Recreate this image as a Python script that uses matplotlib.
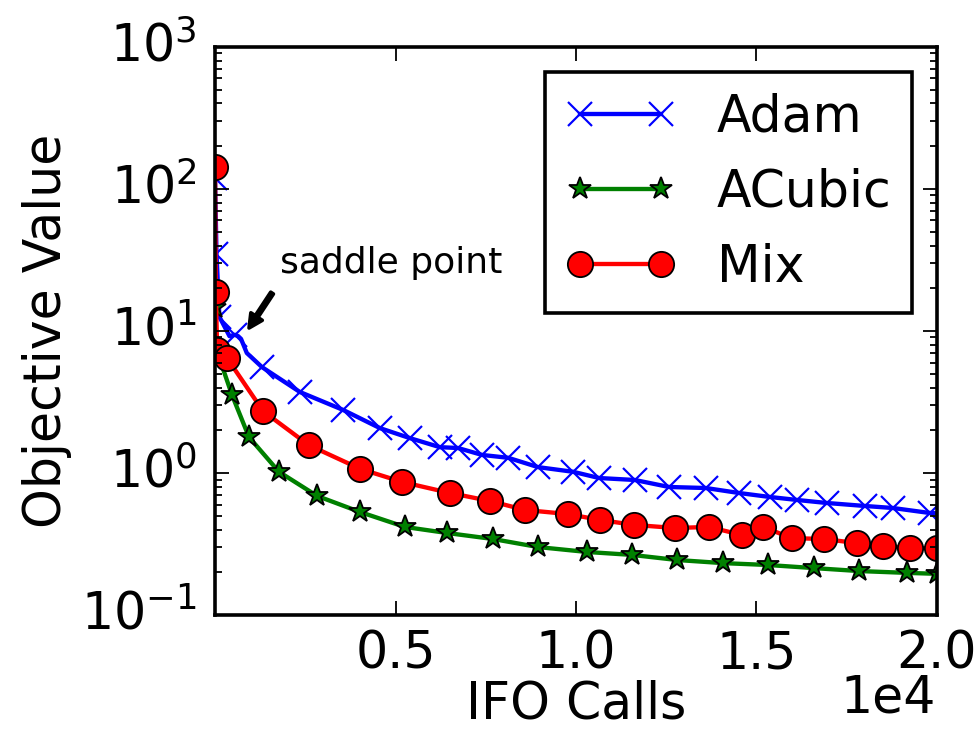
import matplotlib
matplotlib.use('Agg')
import matplotlib.pyplot as plt

plt.style.use('classic')

# IFO calls / objective value
adam_x = [0, 40, 120, 400, 550, 640, 720, 880, 1300, 2350, 3550, 4570, 5400, 6230,
          6730, 7400, 8120, 8950, 9920, 10640, 11630, 12580, 13600, 14520, 15370,
          16120, 16950, 18000, 18780, 19800, 20000]
adam_y = [119, 35, 12.6, 9.2, 9.4, 9.2, 8.8, 7.0, 5.57, 3.72, 2.78, 2.07, 1.76, 1.52,
          1.50, 1.34, 1.28, 1.10, 1.02, 0.922, 0.893, 0.797, 0.784, 0.723, 0.678,
          0.646, 0.615, 0.586, 0.567, 0.523, 0.52]
adam_marks = [0, 1, 2, 4] + list(range(8, 30))

acubic_x = [0, 30, 470, 940, 1770, 2830, 4020, 5260, 6430, 7700, 8950, 10300, 11550,
            12800, 14070, 15320, 16590, 17840, 19170, 20000]
acubic_y = [14.5, 7.5, 3.54, 1.79, 1.02, 0.689, 0.531, 0.417, 0.378, 0.343, 0.301,
            0.278, 0.265, 0.244, 0.232, 0.225, 0.214, 0.204, 0.198, 0.195]

mix_x = [0, 20, 60, 330, 1330, 2600, 4020, 5180, 6510, 7620, 8590, 9780, 10670,
         11610, 12740, 13680, 14600, 15180, 15980, 16870, 17780, 18500, 19250, 20000]
mix_y = [143, 18.8, 7.3, 6.46, 2.73, 1.57, 1.07, 0.865, 0.723, 0.635, 0.549, 0.514,
         0.467, 0.431, 0.410, 0.417, 0.366, 0.417, 0.348, 0.343, 0.321, 0.306, 0.296,
         0.296]

fig = plt.figure(figsize=(977 / 260.0, 740 / 260.0))
ax = fig.add_axes([0.2201, 0.1689, 0.7389, 0.7676])

ax.plot(adam_x, adam_y, 'b-', lw=1.2, marker='x', markevery=adam_marks,
        markersize=6.5, markeredgewidth=0.6, markeredgecolor='b', label='Adam')
ax.plot(acubic_x, acubic_y, 'g-', lw=1.2, marker='*', markersize=6.5,
        markeredgecolor='k', markeredgewidth=0.5, label='ACubic')
ax.plot(mix_x, mix_y, 'r-', lw=1.2, marker='o', markersize=7, markeredgecolor='k',
        markeredgewidth=0.5, label='Mix')

ax.set_yscale('log')
ax.set_ylim(0.1, 1000)
ax.set_xlim(0, 20000)
ax.set_xticks([5000, 10000, 15000, 20000])
ax.ticklabel_format(axis='x', style='sci', scilimits=(0, 0))
ax.xaxis.get_offset_text().set_visible(False)
ax.text(0.998, -0.103, '1e4', transform=ax.transAxes, ha='right', va='top',
        fontsize=14)

ax.tick_params(axis='both', which='major', labelsize=14, length=4, width=0.5)
ax.tick_params(axis='both', which='minor', length=2, width=0.5)
ax.tick_params(axis='y', which='major', pad=5)

ax.set_xlabel('IFO Calls', fontsize=14, labelpad=0)
ax.set_ylabel('Objective Value', fontsize=14, labelpad=2.5)

# saddle point arrow
ax.annotate('', xy=(942, 10.5), xytext=(1580, 18.5),
            arrowprops=dict(facecolor='black', edgecolor='black', width=0.9,
                            headwidth=3.8, headlength=3.8, shrink=0))
ax.text(1800, 25.5, 'saddle point', fontsize=10, va='baseline')

ax.legend(loc='upper right', numpoints=2, fontsize=14, handlelength=2.2)

fig.savefig('out.png', dpi=260)
